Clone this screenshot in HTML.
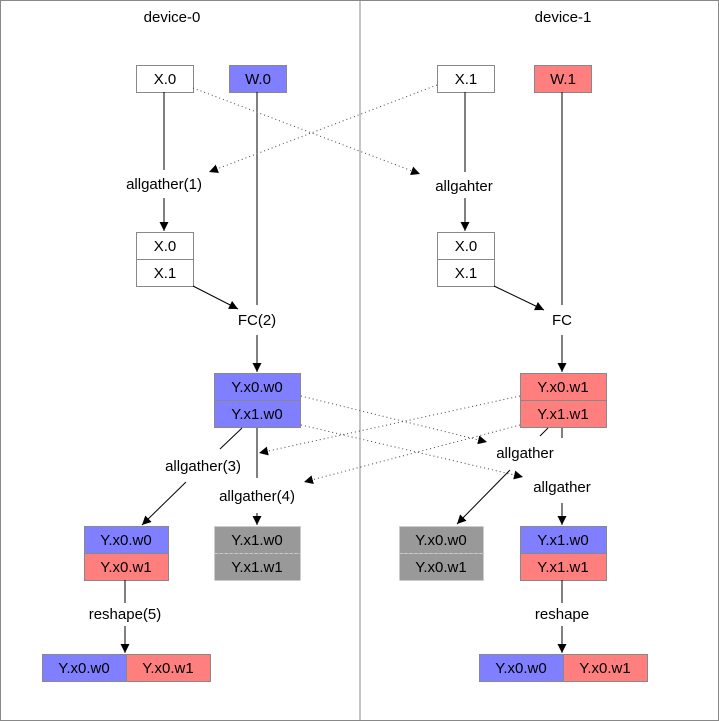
<!DOCTYPE html>
<html><head><meta charset="utf-8"><style>body{margin:0;background:#fff}svg{display:block}text{font-family:"Liberation Sans",Arial,sans-serif;font-size:15px;fill:#000}</style></head><body>
<svg width="719" height="721" viewBox="0 0 719 721" xmlns="http://www.w3.org/2000/svg">
<defs><marker id="a" viewBox="0 0 10 10" refX="10" refY="5" markerWidth="9" markerHeight="9" orient="auto-start-reverse" markerUnits="userSpaceOnUse"><path d="M0,0L10,5L0,10z" fill="#000"/></marker></defs>
<rect x="0.5" y="0.5" width="718" height="720" fill="#fff" stroke="#888"/>
<line x1="360" y1="0" x2="360" y2="721" stroke="#888"/>
<g text-anchor="middle">
<text x="172" y="22">device-0</text><text x="563" y="22">device-1</text>
</g>
<g stroke="#888" stroke-width="1">
<rect x="136.5" y="65.5" width="57" height="27" fill="#fff"/>
<rect x="229.5" y="65.5" width="57" height="27" fill="#7f7fff"/>
<rect x="437.5" y="65.5" width="57" height="27" fill="#fff"/>
<rect x="534.5" y="65.5" width="57" height="27" fill="#ff7f7f"/>
<rect x="136.5" y="232.5" width="57" height="27" fill="#fff"/><rect x="136.5" y="259.5" width="57" height="27" fill="#fff"/>
<rect x="437.5" y="232.5" width="57" height="27" fill="#fff"/><rect x="437.5" y="259.5" width="57" height="27" fill="#fff"/>
<rect x="214.5" y="373.5" width="86" height="27" fill="#7f7fff"/><rect x="214.5" y="400.5" width="86" height="27" fill="#7f7fff"/>
<rect x="520.5" y="373.5" width="86" height="27" fill="#ff7f7f"/><rect x="520.5" y="400.5" width="86" height="27" fill="#ff7f7f"/>
<rect x="84.5" y="526.5" width="84" height="27" fill="#7f7fff"/><rect x="84.5" y="553.5" width="84" height="27" fill="#ff7f7f"/>
<rect x="520.5" y="526.5" width="86" height="27" fill="#7f7fff"/><rect x="520.5" y="553.5" width="86" height="27" fill="#ff7f7f"/>
<rect x="42.5" y="654.5" width="84" height="27" fill="#7f7fff"/><rect x="126.5" y="654.5" width="84" height="27" fill="#ff7f7f"/>
<rect x="479.5" y="654.5" width="84" height="27" fill="#7f7fff"/><rect x="563.5" y="654.5" width="84" height="27" fill="#ff7f7f"/>
</g>
<g stroke="#ccc" stroke-dasharray="3,2" fill="#999">
<rect x="214.5" y="526.5" width="86" height="27"/><rect x="214.5" y="553.5" width="86" height="27"/>
<rect x="399.5" y="526.5" width="84" height="27"/><rect x="399.5" y="553.5" width="84" height="27"/>
</g>
<g text-anchor="middle">
<text x="165" y="84">X.0</text><text x="258" y="84">W.0</text><text x="466" y="84">X.1</text><text x="563" y="84">W.1</text>
<text x="165" y="251">X.0</text><text x="165" y="278">X.1</text><text x="466" y="251">X.0</text><text x="466" y="278">X.1</text>
<text x="257" y="392">Y.x0.w0</text><text x="257" y="419">Y.x1.w0</text>
<text x="563" y="392">Y.x0.w1</text><text x="563" y="419">Y.x1.w1</text>
<text x="126" y="545">Y.x0.w0</text><text x="126" y="572">Y.x0.w1</text>
<text x="257" y="545">Y.x1.w0</text><text x="257" y="572">Y.x1.w1</text>
<text x="441" y="545">Y.x0.w0</text><text x="441" y="572">Y.x0.w1</text>
<text x="563" y="545">Y.x1.w0</text><text x="563" y="572">Y.x1.w1</text>
<text x="84" y="673">Y.x0.w0</text><text x="168" y="673">Y.x0.w1</text>
<text x="521" y="673">Y.x0.w0</text><text x="605" y="673">Y.x0.w1</text>
<text x="164" y="189">allgather(1)</text><text x="464" y="191">allgahter</text>
<text x="257" y="325">FC(2)</text><text x="562" y="325">FC</text>
<text x="203" y="471">allgather(3)</text><text x="257" y="501">allgather(4)</text>
<text x="525" y="458">allgather</text><text x="562" y="492">allgather</text>
<text x="125" y="619">reshape(5)</text><text x="562" y="619">reshape</text>
</g>
<g stroke="#000" stroke-width="1" fill="none">
<line x1="164" y1="92" x2="164" y2="170"/>
<line x1="164" y1="198" x2="164" y2="231" marker-end="url(#a)"/>
<line x1="257" y1="92" x2="257" y2="305"/>
<line x1="193" y1="286" x2="238" y2="309" marker-end="url(#a)"/>
<line x1="257" y1="335" x2="257" y2="372" marker-end="url(#a)"/>
<line x1="465" y1="92" x2="465" y2="172"/>
<line x1="465" y1="198" x2="465" y2="231" marker-end="url(#a)"/>
<line x1="562" y1="92" x2="562" y2="305"/>
<line x1="494" y1="286" x2="544" y2="310" marker-end="url(#a)"/>
<line x1="562" y1="335" x2="562" y2="372" marker-end="url(#a)"/>
<line x1="242" y1="428" x2="220" y2="449"/>
<line x1="186" y1="482" x2="142" y2="525" marker-end="url(#a)"/>
<line x1="257" y1="428" x2="257" y2="478"/>
<line x1="257" y1="513" x2="257" y2="525" marker-end="url(#a)"/>
<line x1="548" y1="428" x2="540" y2="436"/>
<line x1="510" y1="470" x2="457" y2="524" marker-end="url(#a)"/>
<line x1="562" y1="428" x2="562" y2="438"/>
<line x1="562" y1="503" x2="562" y2="525" marker-end="url(#a)"/>
<line x1="125" y1="580" x2="125" y2="603"/>
<line x1="125" y1="626" x2="125" y2="653" marker-end="url(#a)"/>
<line x1="562" y1="580" x2="562" y2="603"/>
<line x1="562" y1="626" x2="562" y2="653" marker-end="url(#a)"/>
</g>
<g stroke="#444" stroke-width="1" stroke-dasharray="1,3" fill="none">
<line x1="193" y1="88" x2="420" y2="174" marker-end="url(#a)"/>
<line x1="437" y1="85" x2="209" y2="172" marker-end="url(#a)"/>
<line x1="301" y1="396" x2="487" y2="442" marker-end="url(#a)"/>
<line x1="301" y1="425" x2="523" y2="477" marker-end="url(#a)"/>
<line x1="520" y1="396" x2="259" y2="453" marker-end="url(#a)"/>
<line x1="520" y1="425" x2="304" y2="482" marker-end="url(#a)"/>
</g>
</svg>
</body></html>
